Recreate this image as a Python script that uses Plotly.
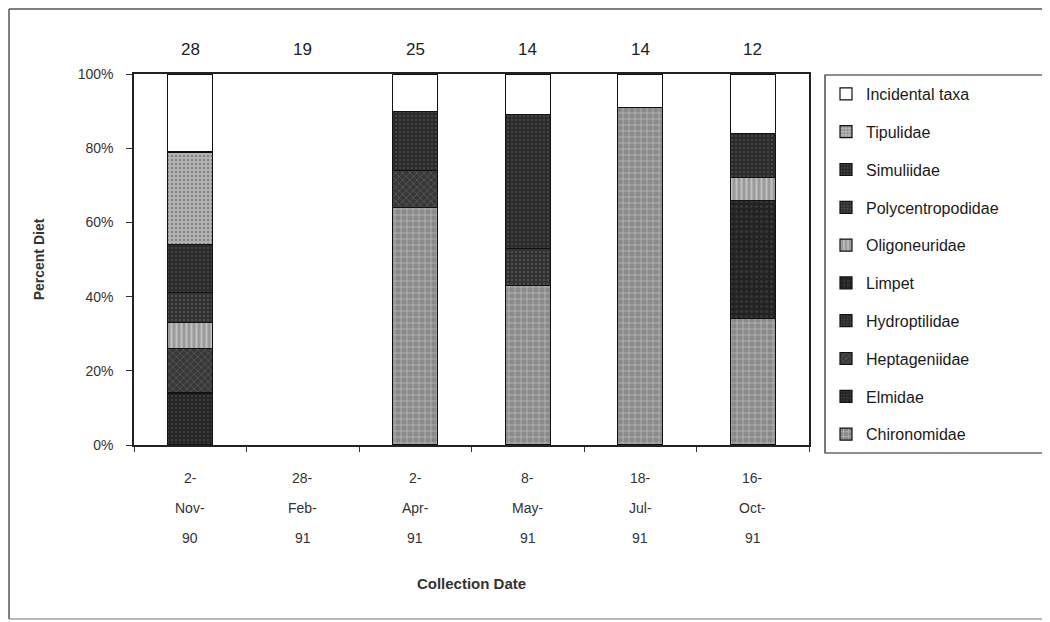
import plotly.graph_objects as go

# ---------------- data ----------------
dates = ["2-Nov-90", "28-Feb-91", "2-Apr-91", "8-May-91", "18-Jul-91", "16-Oct-91"]
n_fish = [28, 19, 25, 14, 14, 12]

taxa = ["Chironomidae", "Elmidae", "Heptageniidae", "Hydroptilidae", "Limpet",
        "Oligoneuridae", "Polycentropodidae", "Simuliidae", "Tipulidae", "Incidental taxa"]

chironomidae = [0, 0, 64, 43, 91, 34]
elmidae = [14, 0, 0, 0, 0, 0]
heptageniidae = [12, 0, 10, 0, 0, 0]
hydroptilidae = [0, 0, 0, 0, 0, 0]
limpet = [0, 0, 0, 0, 0, 32]
oligoneuridae = [7, 0, 0, 0, 0, 6]
polycentropodidae = [8, 0, 0, 10, 0, 0]
simuliidae = [13, 0, 16, 36, 0, 12]
tipulidae = [25, 0, 0, 0, 0, 0]
incidental = [21, 0, 10, 11, 9, 16]

y_ticks = [0, 20, 40, 60, 80, 100]

values = [chironomidae, elmidae, heptageniidae, hydroptilidae, limpet,
          oligoneuridae, polycentropodidae, simuliidae, tipulidae, incidental]

styles = {
    "Chironomidae": dict(color="#8a8a8a", shape="+", fg="#e6e6e6", size=6, sol=0.25),
    "Elmidae": dict(color="#242424", shape=".", fg="#555555", size=4, sol=0.3),
    "Heptageniidae": dict(color="#383838", shape="x", fg="#7a7a7a", size=5, sol=0.3),
    "Hydroptilidae": dict(color="#2c2c2c", shape=".", fg="#5a5a5a", size=4, sol=0.3),
    "Limpet": dict(color="#222222", shape=".", fg="#4a4a4a", size=5, sol=0.3),
    "Oligoneuridae": dict(color="#9a9a9a", shape="|", fg="#e8e8e8", size=5, sol=0.4),
    "Polycentropodidae": dict(color="#303030", shape=".", fg="#686868", size=4, sol=0.3),
    "Simuliidae": dict(color="#2a2a2a", shape=".", fg="#5c5c5c", size=4, sol=0.3),
    "Tipulidae": dict(color="#b4b4b4", shape=".", fg="#555555", size=4, sol=0.35),
    "Incidental taxa": dict(color="#ffffff", shape="", fg="#ffffff", size=4, sol=0.3),
}

fig = go.Figure()
for i, (name, vals) in enumerate(zip(taxa, values)):
    s = styles[name]
    fig.add_trace(go.Bar(
        x=dates,
        y=[v if v else None for v in vals],
        name=name,
        legendgroup=name,
        legendrank=1000 - i,
        width=0.4,
        marker=dict(
            color=s["color"],
            line=dict(color="#111111", width=1.2),
            pattern=dict(shape=s["shape"], fgcolor=s["fg"], size=s["size"],
                         solidity=s["sol"], fillmode="overlay"),
        ),
    ))

# pixel layout helpers (page has an 8px body margin, so shift by 8)
OFF = 8
W, H = 1050 - OFF, 622 - OFF
PL, PR, PT, PB = 134, 809, 74, 445  # plot box in reference pixels
L, R, T, B = PL - OFF, W - (PR - OFF), PT - OFF, H - (PB - OFF)
pw, ph = W - L - R, H - T - B


def px_x(x):
    return (x - OFF - L) / pw


def px_y(y):
    return (H - B - (y - OFF)) / ph


annotations = []
# sample sizes above bars
for d, n in zip(dates, n_fish):
    annotations.append(dict(x=d, xref="x", y=px_y(50), yref="paper", text=str(n),
                            showarrow=False, font=dict(size=17, color="#222222"),
                            xanchor="center", yanchor="middle"))
# multi-line date labels
rows_y = [478, 508, 538]
for d in dates:
    parts = d.split("-")
    lines = [parts[0] + "-", parts[1] + "-", parts[2]]
    for txt, yy in zip(lines, rows_y):
        annotations.append(dict(x=d, xref="x", y=px_y(yy), yref="paper", text=txt,
                                showarrow=False, font=dict(size=14, color="#333333"),
                                xanchor="center", yanchor="middle"))

shapes = [
    # outer frame
    dict(type="line", xref="paper", yref="paper", x0=px_x(9), x1=px_x(1050),
         y0=px_y(9), y1=px_y(9), line=dict(color="#555555", width=1.5)),
    dict(type="line", xref="paper", yref="paper", x0=px_x(9), x1=px_x(9),
         y0=px_y(9), y1=px_y(619), line=dict(color="#555555", width=1.5)),
    dict(type="line", xref="paper", yref="paper", x0=px_x(9), x1=px_x(1050),
         y0=px_y(619), y1=px_y(619), line=dict(color="#777777", width=1)),
    # legend frame
    dict(type="rect", xref="paper", yref="paper", x0=px_x(825), x1=px_x(1046),
         y0=px_y(453), y1=px_y(75), line=dict(color="#222222", width=1.2),
         layer="below"),
]

fig.update_layout(
    width=W, height=H,
    margin=dict(l=L, r=R, t=T, b=B, autoexpand=False),
    barmode="stack",
    bargap=0.6,
    paper_bgcolor="white",
    plot_bgcolor="white",
    font=dict(family="Liberation Sans, Arial, sans-serif", color="#222222"),
    showlegend=True,
    legend=dict(
        x=px_x(826), y=px_y(77), xanchor="left", yanchor="top",
        traceorder="grouped",
        tracegroupgap=14,
        borderwidth=0,
        font=dict(size=16, color="#1a1a1a"),
        itemwidth=30,
        maxheight=600,
        bgcolor="rgba(0,0,0,0)",
    ),
    annotations=annotations,
    shapes=shapes,
    xaxis=dict(
        type="category",
        showticklabels=False,
        ticks="outside", ticklen=5, tickcolor="#333333",
        tickson="boundaries",
        showline=True, linecolor="#222222", linewidth=1.5, mirror=True,
        title=dict(text="<b>Collection Date</b>", standoff=133,
                   font=dict(size=15, color="#333333")),
        showgrid=False,
    ),
    yaxis=dict(
        range=[0, 100],
        tickvals=y_ticks,
        ticktext=[f"{v}%" for v in y_ticks],
        ticks="outside", ticklen=6, tickcolor="#333333",
        ticklabelstandoff=10,
        tickfont=dict(size=14, color="#333333"),
        showline=True, linecolor="#222222", linewidth=1.5, mirror=True,
        showgrid=False,
        zeroline=False,
        title=dict(text="<b>Percent Diet</b>", standoff=30,
                   font=dict(size=14, color="#333333")),
    ),
)

fig.write_html("out.html")
